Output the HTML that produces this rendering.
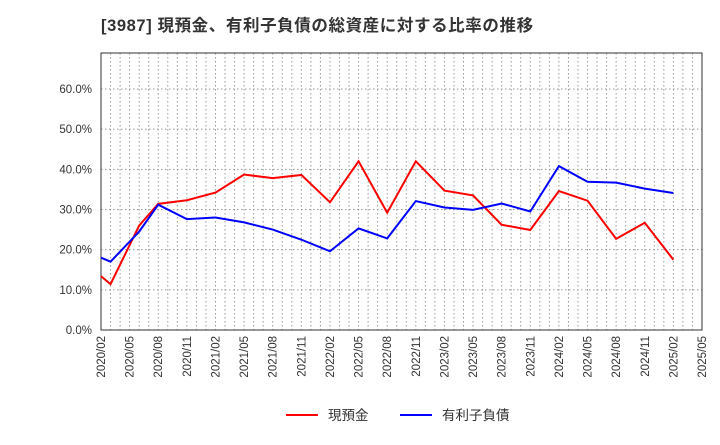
<!DOCTYPE html>
<html><head><meta charset="utf-8"><style>
body{margin:0;background:#fff;font-family:"Liberation Sans","Noto Sans CJK JP",sans-serif}
</style></head><body>
<svg id="c" width="720" height="440" xmlns="http://www.w3.org/2000/svg"></svg>
<script>
const yTicks=[0,10,20,30,40,50,60];
const xTickLabels=["2020/02","2020/05","2020/08","2020/11","2021/02","2021/05","2021/08","2021/11","2022/02","2022/05","2022/08","2022/11","2023/02","2023/05","2023/08","2023/11","2024/02","2024/05","2024/08","2024/11","2025/02","2025/05"];
const months=[0,1,4,6,9,12,15,18,21,24,27,30,33,36,39,42,45,48,51,54,57,60];
const cash=[13.4,11.4,26,31.4,32.3,34.2,38.7,37.8,38.6,31.8,42,29.2,42,34.7,33.5,26.2,24.9,34.6,32.2,22.7,26.7,17.5];
const debt=[18,17,24.5,31.2,27.6,28,26.8,25,22.5,19.6,25.3,22.8,32.1,30.5,29.9,31.5,29.5,40.8,36.9,36.7,35.2,34.1];
const NS="http://www.w3.org/2000/svg";
const svg=document.getElementById('c');
const L=101,R=702,T=53,B=330;
const x=m=>L+m*(R-L)/63;
const y=v=>B-v*(B-89)/60;
function el(t,a,p){const e=document.createElementNS(NS,t);for(const k in a)e.setAttribute(k,a[k]);(p||svg).appendChild(e);return e;}
const title=el('text',{x:101,y:31,'font-size':16.5,'font-weight':'bold',fill:'#333','letter-spacing':0.6});
title.textContent="[3987]  現預金、有利子負債の総資産に対する比率の推移";


const grid=el('g',{});


for(let m=1;m<63;m++)el('line',{x1:x(m),x2:x(m),y1:T,y2:B,stroke:'#999','stroke-dasharray':'1.5,2.5','stroke-width':1},grid);
yTicks.forEach(v=>{if(v>0)el('line',{x1:L,x2:R,y1:y(v),y2:y(v),stroke:'#999','stroke-dasharray':'1.5,2.5'},grid);
const t=el('text',{x:92,y:y(v)+4,'text-anchor':'end','font-size':11.5,fill:'#333'});t.textContent=v.toFixed(1)+'%';
});
const frame=el('rect',{x:L,y:T,width:R-L,height:B-T,fill:'none',stroke:'#333'});


xTickLabels.forEach((s,i)=>{const xx=x(i*3);const t=el('text',{transform:`translate(${xx+4},${B+6}) rotate(-90)`,'text-anchor':'end','font-size':11.5,fill:'#333'});t.textContent=s;
});
function line(d,c,n){const p=el('polyline',{points:d.map((v,i)=>x(months[i])+','+y(v)).join(' '),fill:'none',stroke:c,'stroke-width':2});
}
line(cash,'#f00','cash-line');line(debt,'#00f','debt-line');
function leg(x0,c,s,n){const g=el('g',{});
el('line',{x1:x0,x2:x0+32,y1:415,y2:415,stroke:c,'stroke-width':2},g);
const t=el('text',{x:x0+42,y:420,'font-size':13.5,fill:'#333'},g);t.textContent=s;}
leg(286,'#f00','現預金','legend-cash');leg(400,'#00f','有利子負債','legend-debt');
</script></body></html>
